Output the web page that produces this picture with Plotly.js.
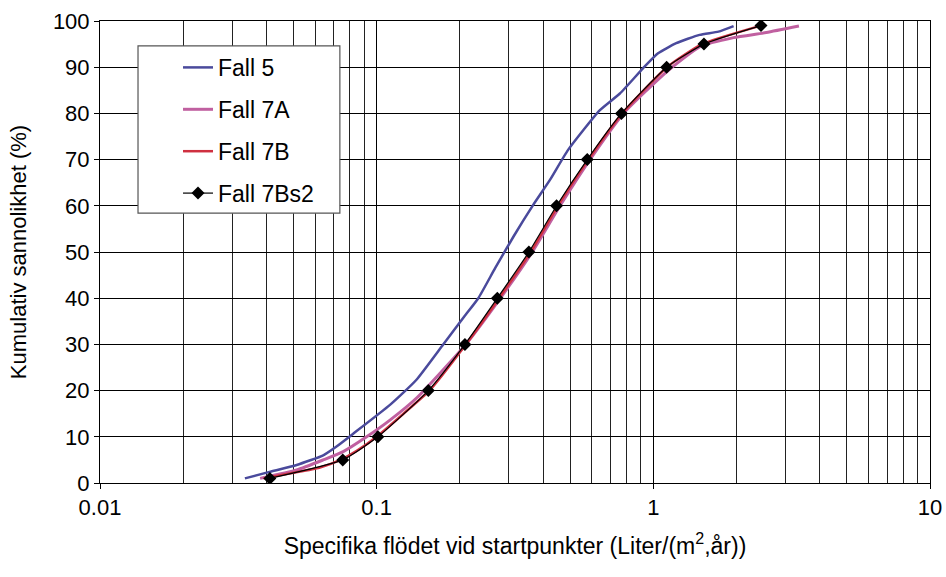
<!DOCTYPE html>
<html>
<head>
<meta charset="utf-8">
<script src="https://cdn.plot.ly/plotly-3.0.1.min.js"></script>
<style>html,body{margin:0;padding:0;background:#fff;}#chart{width:946px;height:577px;}</style>
</head>
<body>
<div id="chart"></div>
<script>
// ---- data ----
var seriesNames = ["Fall 5", "Fall 7A", "Fall 7B", "Fall 7Bs2"];

var fall5X = [0.0334, 0.041, 0.0514, 0.0641, 0.0716, 0.0824, 0.1117, 0.139, 0.174, 0.207, 0.233, 0.268, 0.312, 0.368, 0.423, 0.492, 0.641, 0.757, 0.919, 1.04, 1.21, 1.47, 1.72, 1.95];
var fall5Y = [1, 2.4, 3.9, 6, 7.9, 10.7, 16.9, 22.3, 30, 36, 40, 46.5, 53.3, 60.2, 65.6, 72.1, 80.7, 84.3, 89.8, 93, 95.2, 97, 97.7, 98.9];

var fall7AX = [0.0379, 0.0514, 0.0641, 0.0757, 0.092, 0.1117, 0.14, 0.21, 0.28, 0.365, 0.46, 0.59, 0.78, 1.117, 1.47, 1.95, 2.56, 3.36];
var fall7AY = [1, 2.8, 5, 6.8, 10, 13.6, 18.5, 30, 40, 50, 60, 70, 80, 89, 94.4, 96.4, 97.5, 98.9];

var fall7BX = [0.039, 0.05, 0.062, 0.074, 0.085, 0.1, 0.125, 0.155, 0.21, 0.277, 0.36, 0.452, 0.582, 0.772, 1.12, 1.5, 2.45];
var fall7BY = [1, 2.2, 3.3, 5, 7, 10, 15, 20, 30, 40, 50, 60, 70, 80, 90, 95, 99];

var fall7Bs2X = [0.0411, 0.0754, 0.101, 0.1537, 0.2085, 0.273, 0.355, 0.447, 0.577, 0.767, 1.117, 1.524, 2.45];
var fall7Bs2Y = [1, 5, 10, 20, 30, 40, 50, 60, 70, 80, 90, 95, 99];

var xTickVals = [0.01, 0.1, 1, 10];
var xTickText = ["0.01", "0.1", "1", "10"];
var xMinorVals = [0.02,0.03,0.04,0.05,0.06,0.07,0.08,0.09,0.2,0.3,0.4,0.5,0.6,0.7,0.8,0.9,2,3,4,5,6,7,8,9];
var yTickVals = [0, 10, 20, 30, 40, 50, 60, 70, 80, 90, 100];

var xTitle = "Specifika flödet vid startpunkter (Liter/(m<sup>2</sup>,år))";
var yTitle = "Kumulativ sannolikhet (%)";

// ---- chart ----
var FONT = "Liberation Sans, Arial, Helvetica, sans-serif";
var traces = [
  {x: fall5X, y: fall5Y, name: seriesNames[0], legendgroup: "a", mode: "lines",
   line: {color: "#4a4a9c", width: 2.5, shape: "spline", smoothing: 0.5}},
  {x: fall7AX, y: fall7AY, name: seriesNames[1], legendgroup: "b", mode: "lines",
   line: {color: "#c060a0", width: 3, shape: "spline", smoothing: 0.5}},
  {x: fall7BX, y: fall7BY, name: seriesNames[2], legendgroup: "c", mode: "lines",
   line: {color: "#cf3040", width: 2.5, shape: "spline", smoothing: 0.5}},
  {x: fall7Bs2X, y: fall7Bs2Y, name: seriesNames[3], legendgroup: "d", mode: "lines+markers",
   line: {color: "#000000", width: 1.2, shape: "spline", smoothing: 0.5},
   marker: {symbol: "diamond", size: 10, color: "#000000"}}
];

var layout = {
  width: 946, height: 577,
  margin: {l: 100, r: 16, t: 21, b: 94},
  paper_bgcolor: "#ffffff", plot_bgcolor: "#ffffff",
  font: {family: FONT, size: 22, color: "#000"},
  showlegend: true,
  legend: {x: 0.094, y: 0.946, xanchor: "left", yanchor: "top",
           bgcolor: "rgba(0,0,0,0)", borderwidth: 0,
           font: {family: FONT, size: 23, color: "#000"},
           tracegroupgap: 9, traceorder: "grouped"},
  shapes: [{type: "rect", xref: "paper", yref: "paper",
            x0: 0.0458, x1: 0.289, y0: 0.584, y1: 0.946,
            line: {color: "#555", width: 1.2}, fillcolor: "#ffffff", layer: "above"}],
  xaxis: {type: "log", range: [-2, 1], tickmode: "array", tickvals: xTickVals, ticktext: xTickText,
          ticks: "outside", ticklen: 5, tickcolor: "#000", showline: true, linecolor: "#000", linewidth: 1,
          mirror: true, showgrid: true, gridcolor: "#000", gridwidth: 1, zeroline: false,
          tickfont: {family: FONT, size: 22},
          minor: {tickmode: "array", tickvals: xMinorVals, showgrid: true, gridcolor: "#222", gridwidth: 1,
                  ticks: ""},
          title: {text: xTitle, font: {family: FONT, size: 23}, standoff: 18}},
  yaxis: {range: [0, 100], tickmode: "array", tickvals: yTickVals,
          ticks: "outside", ticklen: 5, tickcolor: "#000", showline: true, linecolor: "#000", linewidth: 1,
          mirror: true, showgrid: true, gridcolor: "#000", gridwidth: 1, zeroline: false,
          tickfont: {family: FONT, size: 22},
          title: {text: yTitle, font: {family: FONT, size: 22}, standoff: 20}}
};

Plotly.newPlot("chart", traces, layout, {displayModeBar: false, staticPlot: true});
</script>
</body>
</html>
